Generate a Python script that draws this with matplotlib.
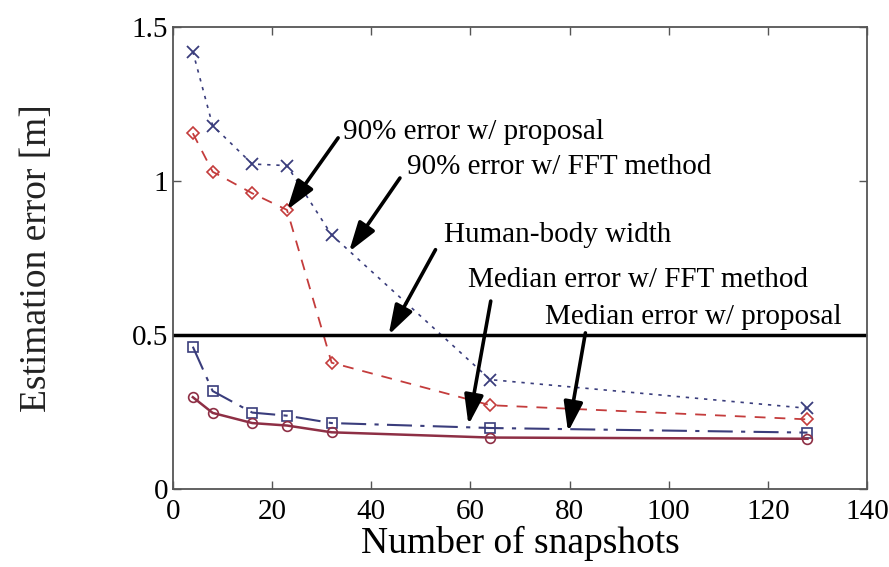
import numpy as np
import matplotlib
matplotlib.use("Agg")
import matplotlib.pyplot as plt

plt.rcParams['font.family'] = ['Liberation Serif', 'DejaVu Serif']
plt.rcParams['mathtext.fontset'] = 'stix'

# number of snapshots and the estimation errors [m]
snapshots = [4, 8, 16, 23, 32, 64, 128]
err90_proposal = [1.42, 1.18, 1.055, 1.05, 0.825, 0.355, 0.262]
err90_fft = [1.155, 1.03, 0.96, 0.906, 0.41, 0.272, 0.226]
median_fft = [0.462, 0.318, 0.248, 0.238, 0.214, 0.198, 0.183]
median_proposal = [0.298, 0.247, 0.214, 0.206, 0.184, 0.167, 0.163]
body_width = 0.5

navy = '#3a3d7c'
red = '#c43c3c'
maroon = '#8e2f45'

fig = plt.figure(figsize=(8.89, 5.67), dpi=100)
ax = fig.add_axes([0.1946, 0.1376, 0.7806, 0.8148])

ax.plot(snapshots, err90_proposal, color=navy, lw=1.2, dashes=(2, 3.5),
        marker='x', ms=8, mew=1.3)
ax.plot(snapshots, err90_fft, color=red, lw=1.3, dashes=(6, 5),
        marker='D', ms=6, mfc='none', mew=1.2)
ax.plot(snapshots, median_fft, color=navy, lw=1.5, dashes=(12, 4, 2, 4),
        marker='s', ms=7, mfc='none', mew=1.2)
ax.plot(snapshots, median_proposal, color=maroon, lw=1.8,
        marker='o', ms=7, mfc='none', mew=1.2)
ax.axhline(body_width, color='black', lw=2.5)

ax.set_xlim(0, 140)
ax.set_ylim(0, 1.5)
ax.set_xticks(np.arange(0, 141, 20))
ax.set_yticks([0, 0.5, 1, 1.5])
ax.set_yticklabels(['0', '0.5', '1', '1.5'])
ax.tick_params(direction='in', length=6, width=1, top=True, right=True,
               labelsize=21, colors='#555555', labelcolor='black')
ax.tick_params(axis='x', pad=7)
for sp in ax.spines.values():
    sp.set_color('#555555')
    sp.set_linewidth(1.3)

ax.set_xlabel('Number of snapshots', fontsize=27, labelpad=1)
ax.set_ylabel('Estimation error [m]', fontsize=27, labelpad=56, color='#222222')

arrow = dict(arrowstyle='-|>,head_length=1.0,head_width=0.32', color='black',
             lw=2.6, mutation_scale=18, shrinkB=0)
notes = [
    ('90% error w/ proposal', (snapshots[3], err90_fft[3]), (34.2, 1.16), (0, 0.5), 2),
    ('90% error w/ FFT method', (35.5, 0.77), (47.3, 1.045), (0, 0.5), 6),
    ('Human-body width', (43.5, body_width), (54.6, 0.825), (0, 0.5), 8),
    ('Median error w/ FFT method', (59.6, 0.208), (59.6, 0.679), (0.07, 0.0), 4),
    ('Median error w/ proposal', (79.7, 0.185), (75.1, 0.558), (0.14, 0.2), 0),
]
for text, tip, pos, rel, shrink in notes:
    ax.annotate(text, xy=tip, xytext=pos, ha='left', va='center', fontsize=21,
                arrowprops=dict(arrow, relpos=rel, shrinkA=shrink))

fig.savefig('out.png', dpi=100)
